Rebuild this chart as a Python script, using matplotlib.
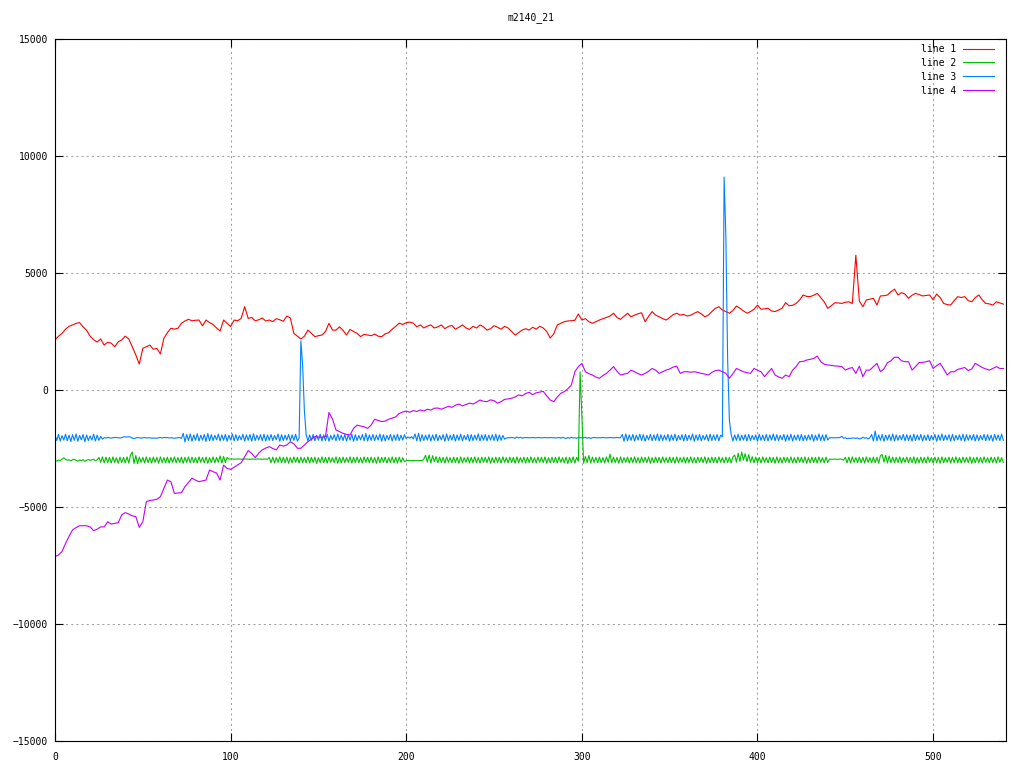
import numpy as np
import matplotlib
matplotlib.use("Agg")
import matplotlib.pyplot as plt

title = "m2140_21"
labels = ["line 1", "line 2", "line 3", "line 4"]
colors = ["#ff0000", "#00c000", "#0080ff", "#c000ff"]
y_ticks = [-15000, -10000, -5000, 0, 5000, 10000, 15000]
x_ticks = [0, 100, 200, 300, 400, 500]

# line 1 and line 4 are read every 2 samples (x = 0, 2, ... 540)
line1 = [
    2140, 2300, 2420, 2600, 2720, 2780, 2850, 2880, 2700, 2550,
    2300, 2150, 2050, 2180, 1920, 2040, 2000, 1850, 2060, 2140,
    2300, 2180, 1850, 1500, 1110, 1780, 1850, 1920, 1740, 1780,
    1540, 2210, 2450, 2640, 2600, 2640, 2850, 2950, 3020, 2960,
    2980, 2990, 2740, 2990, 2880, 2800, 2650, 2520, 2990, 2850,
    2710, 2990, 2960, 3060, 3560, 3060, 3100, 2960, 3000, 3080,
    2950, 2990, 2920, 3050, 3000, 2940, 3160, 3080, 2420, 2300,
    2180, 2300, 2560, 2420, 2280, 2320, 2350, 2500, 2850, 2560,
    2560, 2700, 2550, 2350, 2590, 2500, 2420, 2280, 2380, 2350,
    2320, 2390, 2300, 2280, 2400, 2450, 2600, 2720, 2860, 2800,
    2880, 2900, 2860, 2700, 2780, 2650, 2730, 2780, 2650, 2700,
    2780, 2620, 2720, 2760, 2600, 2680, 2780, 2650, 2590, 2720,
    2650, 2780, 2700, 2560, 2620, 2750, 2680, 2600, 2720, 2650,
    2500, 2350, 2450, 2560, 2620, 2560, 2680, 2600, 2720, 2650,
    2500, 2220, 2400, 2780, 2850, 2920, 2950, 2960, 2980, 3250,
    2990, 3050, 2920, 2850, 2920, 2990, 3050, 3100, 3160, 3280,
    3100, 3020, 3150, 3280, 3130, 3200, 3260, 3300, 2920, 3150,
    3350, 3200, 3130, 3050, 2990, 3100, 3220, 3280, 3200, 3230,
    3160, 3200, 3280, 3350, 3250, 3130, 3200, 3350, 3490, 3560,
    3420, 3350, 3280, 3400, 3590, 3490, 3380, 3280, 3350, 3450,
    3630, 3450, 3470, 3490, 3380, 3350, 3420, 3490, 3730, 3600,
    3620, 3700, 3850, 4060, 4000, 3990, 4050, 4130, 3950, 3770,
    3490, 3600, 3730, 3720, 3700, 3750, 3770, 3700, 5760, 3800,
    3560, 3850, 3880, 3920, 3630, 4020, 4030, 4060, 4200, 4310,
    4060, 4160, 4100, 3920, 4050, 4130, 4080, 4020, 4040, 4060,
    3850, 4100, 3950, 3700, 3650, 3630, 3820, 3990, 3950, 3990,
    3820, 3770, 3950, 4060, 3850, 3700, 3680, 3630, 3770, 3720,
    3670,
]

line4 = [
    -7120, -7050, -6900, -6560, -6250, -5980, -5880, -5800, -5800, -5800,
    -5850, -6010, -5950, -5850, -5850, -5630, -5730, -5700, -5670, -5340,
    -5240, -5300, -5380, -5410, -5870, -5630, -4770, -4720, -4700, -4670,
    -4560, -4200, -3850, -3920, -4420, -4400, -4390, -4130, -3950, -3770,
    -3850, -3920, -3880, -3850, -3420, -3490, -3550, -3850, -3210, -3350,
    -3390, -3300, -3200, -3110, -2850, -2590, -2710, -2890, -2700, -2560,
    -2480, -2420, -2500, -2560, -2350, -2400, -2350, -2210, -2300, -2490,
    -2490, -2350, -2210, -2100, -1990, -2010, -2020, -1990, -960, -1240,
    -1710, -1780, -1850, -1900, -1920, -1640, -1500, -1540, -1570, -1640,
    -1500, -1250, -1300, -1350, -1330, -1250, -1200, -1150, -1000, -940,
    -900, -950, -880, -920, -850, -900, -820, -860, -780, -770,
    -820, -760, -700, -740, -650, -600, -680, -620, -560, -600,
    -520, -430, -480, -500, -420, -460, -560, -500, -400, -380,
    -350, -300, -210, -250, -150, -100, -200, -120, -90, -60,
    -250, -430, -500, -300, -140, -70, 50, 210, 780, 1000,
    1140, 780, 700, 640, 550, 500, 620, 710, 850, 1000,
    800, 640, 680, 710, 850, 780, 700, 640, 710, 800,
    920, 850, 710, 780, 850, 900, 980, 1020, 710, 780,
    780, 760, 780, 750, 710, 680, 640, 750, 830, 850,
    780, 710, 500, 700, 920, 850, 780, 740, 710, 920,
    850, 780, 570, 750, 920, 640, 560, 500, 640, 570,
    850, 1000, 1210, 1220, 1280, 1310, 1350, 1450, 1210, 1100,
    1070, 1050, 1030, 1020, 1000, 850, 920, 960, 710, 1020,
    570, 850, 850, 1000, 1140, 780, 900, 1170, 1250, 1400,
    1400, 1250, 1210, 1210, 850, 1000, 1170, 1180, 1210, 1250,
    920, 1040, 1140, 900, 640, 780, 780, 880, 920, 960,
    830, 900, 1140, 1050, 960, 900, 850, 920, 1000, 920,
    920,
]

# line 2 and line 3 are read every sample (x = 0 ... 540)
line2 = [
    -3000, -3040, -2990, -3020, -2950, -2900, -2960, -3000, -2980, -3030,
    -2980, -2960, -3010, -3040, -2990, -3020, -2980, -3050, -3000, -2970,
    -3010, -2980, -2960, -3020, -2990, -2880, -3090, -2860, -3110, -2870,
    -3100, -2880, -3120, -2860, -3090, -2890, -3130, -2870, -3100, -2880,
    -3110, -2860, -3120, -2780, -2650, -3140, -2800, -3150, -2870, -3090,
    -2880, -3110, -2860, -3100, -2890, -3120, -2870, -3090, -2880, -3130,
    -2860, -3100, -2890, -3110, -2870, -3120, -2880, -3090, -2860, -3110,
    -2890, -3100, -2870, -3130, -2880, -3090, -2860, -3110, -2870, -3100,
    -2890, -3120, -2860, -3090, -2880, -3110, -2870, -3130, -2890, -3100,
    -2860, -3110, -2880, -3090, -2820, -3120, -2840, -3100, -2880, -2950,
    -2950, -2950, -2960, -2950, -2950, -2950, -2960, -2960, -2950, -2950,
    -2960, -2960, -2950, -2950, -2960, -2950, -2950, -2950, -2960, -2950,
    -2950, -2960, -2880, -3100, -2870, -3120, -2890, -3090, -2860, -3110,
    -2880, -3100, -2870, -3130, -2890, -3110, -2860, -3090, -2880, -3120,
    -2870, -3100, -2890, -3110, -2860, -3120, -2880, -3090, -2870, -3140,
    -2890, -3100, -2860, -3110, -2880, -3120, -2870, -3090, -2890, -3100,
    -2860, -3130, -2880, -3110, -2870, -3100, -2890, -3090, -2860, -3120,
    -2880, -3100, -2870, -3110, -2890, -3120, -2860, -3090, -2880, -3110,
    -2870, -3100, -2890, -3130, -2860, -3110, -2880, -3090, -2870, -3120,
    -2890, -3100, -2860, -3110, -2880, -3120, -2870, -3090, -2890, -3060,
    -3020, -3010, -3020, -3020, -3010, -3020, -3020, -3020, -3010, -3020,
    -2950, -2790, -3080, -2780, -3120, -2810, -3060, -2850, -3110, -2870,
    -3100, -2880, -3120, -2860, -3090, -2890, -3110, -2870, -3100, -2880,
    -3130, -2860, -3110, -2890, -3090, -2870, -3120, -2880, -3100, -2860,
    -3110, -2890, -3120, -2870, -3090, -2880, -3100, -2860, -3130, -2890,
    -3110, -2870, -3100, -2880, -3120, -2860, -3090, -2890, -3110, -2870,
    -3100, -2880, -3130, -2860, -3110, -2890, -3090, -2870, -3120, -2880,
    -3100, -2860, -3110, -2890, -3120, -2870, -3090, -2880, -3100, -2860,
    -3130, -2890, -3110, -2870, -3100, -2880, -3120, -2860, -3090, -2890,
    -3110, -2870, -3140, -2880, -3100, -2860, -3120, -2880, -3040, 780,
    -1100, -3130, -2840, -3100, -2800, -3120, -2870, -3090, -2880, -3110,
    -2870, -3100, -2890, -3120, -2860, -3090, -2740, -3110, -2870, -3100,
    -2880, -3130, -2860, -3110, -2890, -3090, -2870, -3120, -2880, -3100,
    -2860, -3110, -2890, -3120, -2870, -3090, -2880, -3100, -2860, -3130,
    -2890, -3110, -2870, -3100, -2880, -3120, -2860, -3090, -2890, -3110,
    -2870, -3100, -2880, -3130, -2860, -3110, -2890, -3090, -2870, -3120,
    -2880, -3100, -2860, -3110, -2890, -3120, -2870, -3090, -2880, -3100,
    -2860, -3130, -2890, -3110, -2870, -3100, -2880, -3120, -2860, -3090,
    -2890, -3110, -2870, -3100, -2880, -3120, -2860, -2780, -3080, -2700,
    -3050, -2650, -3000, -2720, -3060, -2760, -3090, -2850, -3110, -2870,
    -3100, -2880, -3120, -2860, -3090, -2890, -3110, -2870, -3100, -2880,
    -3130, -2860, -3110, -2890, -3120, -2870, -3090, -2880, -3100, -2860,
    -3110, -2890, -3120, -2870, -3090, -2880, -3100, -2860, -3130, -2890,
    -3110, -2870, -3100, -2880, -3120, -2860, -3090, -2890, -3110, -2870,
    -3100, -2950, -2960, -2960, -2950, -2960, -2960, -2950, -2960, -3000,
    -2880, -3110, -2870, -3120, -2860, -3090, -2890, -3110, -2870, -3100,
    -2880, -3120, -2860, -3090, -2890, -3110, -2870, -3100, -2880, -3130,
    -2800, -2760, -3080, -2790, -3120, -2820, -3100, -2870, -3110, -2880,
    -3100, -2860, -3120, -2890, -3090, -2870, -3110, -2880, -3100, -2860,
    -3130, -2890, -3110, -2870, -3100, -2880, -3120, -2860, -3090, -2890,
    -3110, -2870, -3100, -2880, -3130, -2860, -3110, -2890, -3090, -2870,
    -3120, -2880, -3100, -2860, -3110, -2890, -3120, -2870, -3090, -2880,
    -3100, -2860, -3130, -2890, -3110, -2870, -3100, -2880, -3120, -2860,
    -3090, -2890, -3110, -2870, -3100, -2880, -3120, -2860, -3090, -2890,
    -3100,
]

line3 = [
    -1920, -2160, -1900, -2180, -1950, -2140, -1890, -2170, -1930, -2200,
    -1910, -2150, -1880, -2190, -1940, -2130, -1900, -2210, -1920, -2160,
    -1960, -2140, -1890, -2180, -1930, -2150, -1980, -2100, -2040, -2050,
    -2030, -2040, -2060, -2040, -2030, -2030, -2040, -2050, -2040, -2000,
    -2000, -2010, -2000, -2010, -2060, -2070, -2050, -2030, -2040, -2060,
    -2040, -2030, -2050, -2040, -2040, -2060, -2050, -2060, -2060, -2040,
    -2030, -2050, -2030, -2040, -2030, -2050, -2040, -2050, -2060, -2050,
    -2040, -2030, -2070, -1850, -2220, -1900, -2160, -1880, -2190, -1920,
    -2150, -1870, -2180, -1930, -2140, -1900, -2200, -1860, -2170, -1910,
    -2160, -1940, -2130, -1890, -2180, -1920, -2150, -1900, -2190, -1930,
    -2140, -1880, -2170, -1910, -2160, -1950, -2130, -1890, -2180, -1920,
    -2150, -1900, -2190, -1870, -2160, -1930, -2140, -1910, -2170, -1890,
    -2180, -1920, -2150, -1900, -2160, -1940, -2130, -1880, -2190, -1910,
    -2160, -1930, -2140, -1900, -2170, -1920, -2150, -1890, -2180, -2050,
    2100, 1070, -900, -1900, -2180, -1920, -2150, -1900, -2170, -1930,
    -2140, -1890, -2180, -1920, -2160, -1900, -2190, -1940, -2130, -1910,
    -2170, -1880, -2150, -1930, -2160, -1900, -2180, -1920, -2140, -1890,
    -2190, -1910, -2160, -1940, -2130, -1900, -2170, -1860, -2180, -1920,
    -2150, -1900, -2160, -1930, -2140, -1880, -2190, -1910, -2170, -1940,
    -2130, -1900, -2180, -1920, -2150, -1890, -2160, -1930, -2140, -1910,
    -2080, -2000, -2060, -1990, -2090, -1880, -2170, -1850, -2190, -1910,
    -2160, -1930, -2140, -1900, -2180, -1920, -2150, -1890, -2170, -1940,
    -2130, -1910, -2190, -1880, -2160, -1930, -2140, -1900, -2180, -1920,
    -2150, -1890, -2170, -1940, -2130, -1900, -2190, -1910, -2160, -1930,
    -2140, -1880, -2180, -1920, -2150, -1900, -2170, -1930, -2140, -1910,
    -2160, -1890, -2180, -1920, -2150, -1940, -2100, -2050, -2040, -2040,
    -2030, -2040, -2060, -2010, -2050, -2020, -2060, -2040, -2030, -2040,
    -2040, -2040, -2030, -2040, -2040, -2030, -2040, -2040, -2040, -2030,
    -2040, -2040, -2030, -2040, -2040, -2050, -2040, -2030, -2060, -2020,
    -2050, -2070, -2030, -2060, -2020, -2050, -2040, -2060, -2030, -2040,
    -2040, -2050, -2020, -2060, -2030, -2070, -2040, -2030, -2040, -2040,
    -2040, -2040, -2030, -2040, -2040, -2040, -2030, -2040, -2040, -2040,
    -2030, -2040, -2040, -1900, -2190, -1880, -2170, -1920, -2150, -1900,
    -2180, -1930, -2140, -1890, -2160, -1910, -2190, -1940, -2130, -1900,
    -2170, -1920, -2150, -1880, -2180, -1910, -2160, -1930, -2140, -1900,
    -2190, -1920, -2150, -1890, -2170, -1940, -2130, -1910, -2180, -1900,
    -2160, -1930, -2140, -1880, -2190, -1920, -2150, -1900, -2170, -1940,
    -2130, -1910, -2180, -1890, -2160, -1920, -2150, -1900, -2170, -1930,
    -2000, 9100, 6500, 1300, -1300, -1900, -2180, -1920, -2150, -1890,
    -2170, -1930, -2140, -1910, -2180, -1900, -2160, -1940, -2130, -1920,
    -2190, -1890, -2150, -1930, -2160, -1900, -2180, -1920, -2140, -1880,
    -2170, -1910, -2160, -1940, -2130, -1900, -2190, -1920, -2150, -1890,
    -2180, -1930, -2140, -1910, -2160, -1900, -2170, -1940, -2150, -1920,
    -2130, -1900, -2190, -1930, -2150, -1880, -2160, -1920, -2170, -1910,
    -2140, -2040, -2040, -2040, -2040, -2040, -2040, -2030, -1980, -2060,
    -2040, -2080, -2060, -2070, -2050, -2060, -2060, -2050, -2090, -2070,
    -2020, -2060, -2040, -2090, -2040, -1900, -2180, -1750, -2170, -1920,
    -2150, -1900, -2190, -1930, -2140, -1910, -2160, -1880, -2180, -1920,
    -2150, -1940, -2130, -1900, -2170, -1910, -2160, -1930, -2190, -1890,
    -2160, -1920, -2140, -1900, -2180, -1930, -2150, -1910, -2170, -1940,
    -2130, -1900, -2190, -1920, -2150, -1880, -2160, -1930, -2140, -1910,
    -2180, -1900, -2170, -1940, -2130, -1920, -2160, -1890, -2190, -1910,
    -2150, -1930, -2140, -1900, -2180, -1920, -2160, -1940, -2130, -1900,
    -2170, -1910, -2150, -1930, -2190, -1900, -2140, -1920, -2160, -1890,
    -2150,
]

assert len(line1) == 271 and len(line4) == 271
assert len(line2) == 541 and len(line3) == 541

x_coarse = np.arange(len(line1)) * 2
x_fine = np.arange(len(line2))

font = "DejaVu Sans Mono"
fig = plt.figure(figsize=(10.24, 7.68), dpi=100)
ax = fig.add_axes([55 / 1024, 1 - 741 / 768, 951 / 1024, 702 / 768])

series = [(x_coarse, line1), (x_fine, line2), (x_fine, line3), (x_coarse, line4)]
for (xs, ys), lab, col in zip(series, labels, colors):
    ax.plot(xs, ys, color=col, lw=0.8, label=lab)

ax.set_xlim(0, 541.5)
ax.set_ylim(-15000, 15000)
ax.set_xticks(x_ticks)
ax.set_yticks(y_ticks)
ax.set_axisbelow(True)
ax.grid(True, color="#a0a0a0", lw=0.75, linestyle=(0, (2, 3)))
ax.tick_params(direction="in", length=6, width=0.8, top=True, right=True,
               labelsize=7, pad=5)
ax.tick_params(axis="x", pad=8)
for lbl in ax.get_xticklabels() + ax.get_yticklabels():
    lbl.set_family(font)
for sp in ax.spines.values():
    sp.set_linewidth(0.8)
    sp.set_color("black")

fig.text(530.5 / 1024, 1 - 18 / 768, title, ha="center", va="center",
         fontsize=7, family=font)

leg = ax.legend(loc="upper right", bbox_to_anchor=(994 / 1024, 1 - 44 / 768),
                bbox_transform=fig.transFigure, frameon=False, markerfirst=False,
                borderpad=0, borderaxespad=0, handlelength=3.2, handletextpad=0.7,
                labelspacing=0.4, prop={"family": font, "size": 7})

fig.savefig("out.png", dpi=100)
